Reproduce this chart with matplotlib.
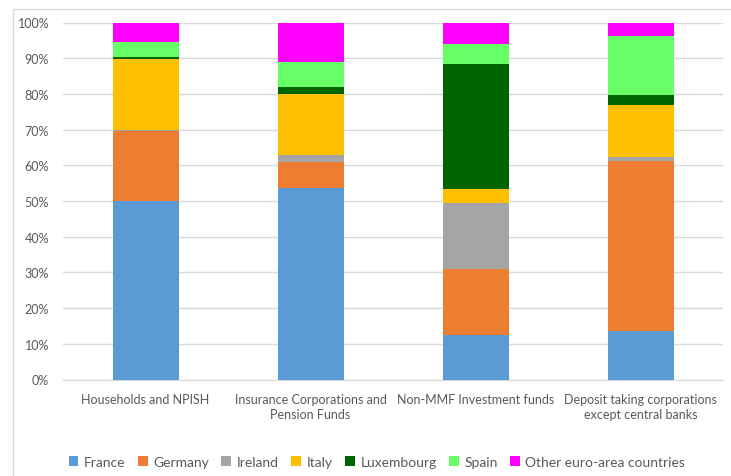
import matplotlib.pyplot as plt
from matplotlib.patches import Rectangle
import numpy as np

plt.rcParams['font.family'] = ['Lato', 'DejaVu Sans']

categories = ['Households and NPISH', 'Insurance Corporations and\nPension Funds',
              'Non-MMF Investment funds', 'Deposit taking corporations\nexcept central banks']
countries = ['France', 'Germany', 'Ireland', 'Italy', 'Luxembourg', 'Spain', 'Other euro-area countries']
colors = ['#5B9BD5', '#ED7D31', '#A5A5A5', '#FFC000', '#006400', '#66FF66', '#FF00FF']

france = [50.0, 53.6, 12.5, 13.6]
germany = [19.6, 7.4, 18.4, 47.6]
ireland = [0.2, 1.9, 18.4, 1.2]
italy = [20.0, 17.2, 4.0, 14.5]
luxembourg = [0.5, 1.8, 35.0, 2.8]
spain = [4.2, 7.1, 5.7, 16.4]
other = [5.5, 11.0, 6.0, 3.9]
series = [france, germany, ireland, italy, luxembourg, spain, other]

fig = plt.figure(figsize=(7.31, 4.77), dpi=100)
ax = fig.add_axes([63 / 731, 1 - 380.5 / 477, 660 / 731, 357 / 477])

x = np.arange(len(categories))
bottom = np.zeros(len(categories))
for name, vals, col in zip(countries, series, colors):
    ax.bar(x, vals, 0.4, bottom=bottom, color=col, label=name, zorder=3)
    bottom += np.array(vals)

ax.set_xlim(-0.5, 3.5)
ax.set_ylim(0, 100)
ax.set_yticks(range(0, 101, 10))
ax.set_yticklabels([f'{v}%' for v in range(0, 101, 10)])
ax.yaxis.grid(True, color='#D9D9D9', linewidth=1, zorder=0)
ax.set_xticks(x)
ax.set_xticklabels(categories, fontsize=9, color='#595959', linespacing=1.3)
ax.tick_params(axis='y', labelsize=9, colors='#595959', length=0, pad=10)
ax.tick_params(axis='x', length=0, pad=10)
for s in ['top', 'right', 'left']:
    ax.spines[s].set_visible(False)
ax.spines['bottom'].set_color('#D9D9D9')

fig.patches.append(Rectangle((13 / 731, -0.1), 1.2, 1 - 10 / 477 + 0.1, transform=fig.transFigure,
                             fill=False, edgecolor='#D9D9D9', linewidth=1))

leg = fig.legend(loc='center', bbox_to_anchor=(377 / 731, 1 - 463 / 477), ncol=7, frameon=False,
                 fontsize=10, handlelength=0.7, handleheight=0.7, handletextpad=0.4,
                 columnspacing=0.9, labelcolor='#595959')

fig.savefig('out.png', dpi=100)
